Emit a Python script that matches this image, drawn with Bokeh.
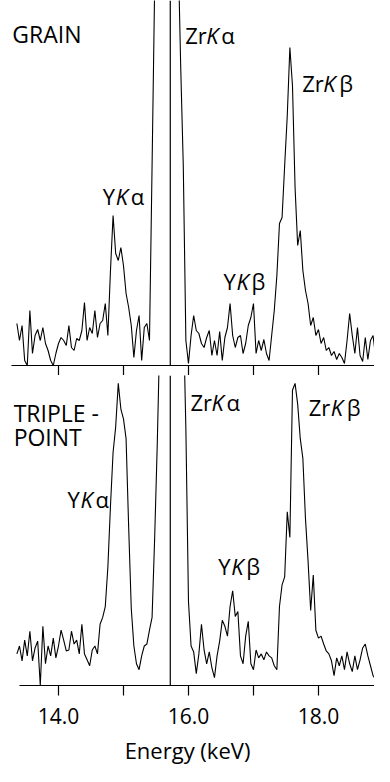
import numpy as np
from bokeh.plotting import figure
from bokeh.layouts import column
from bokeh.models import Range1d, FixedTicker, Span, Label
from bokeh.embed import file_html
from bokeh.resources import INLINE

# ---------------- data ----------------
channel_start_kev = 13.36
channel_width_kev = 0.04

grain_counts = [
    42, 25, 40, 5, 0, 55, 12, 30, 36, 25, 38, 22, 15, 5, 0, 12, 22, 28, 25, 20,
    40, 18, 15, 27, 25, 35, 63, 25, 38, 32, 55, 28, 42, 45, 62, 30, 95, 150, 112, 105,
    118, 100, 72, 58, 40, 8, 35, 50, 5, 38, 42, 25, 200, 380, 1800, 2600, 3100, 3300, 3000, 2400,
    1600, 900, 420, 300, 200, 25, 2, 30, 50, 35, 32, 22, 18, 28, 35, 10, 25, 10, 34, 5,
    28, 38, 62, 30, 18, 28, 30, 12, 22, 40, 48, 62, 12, 25, 15, 26, 12, 5, 30, 55,
    90, 142, 148, 200, 250, 318, 280, 178, 120, 135, 95, 75, 62, 40, 48, 30, 36, 22, 28, 15,
    18, 10, 14, 6, 12, 8, 2, 25, 52, 30, 12, 38, 10, 4, 28, 6, 25, 30, 8, 15,
    20, 12,
]

triple_point_counts = [
    32, 40, 25, 46, 30, 55, 25, 38, 45, 0, 60, 22, 40, 30, 48, 28, 40, 56, 46, 35,
    36, 55, 42, 46, 32, 62, 32, 26, 20, 36, 40, 32, 62, 69, 80, 120, 182, 236, 262, 306,
    280, 270, 250, 160, 78, 40, 22, 16, 30, 40, 42, 56, 69, 150, 245, 360, 1800, 2600, 3100, 3300,
    3000, 2400, 1600, 500, 380, 260, 85, 40, 34, 12, 32, 62, 36, 22, 34, 18, 8, 30, 45, 66,
    60, 50, 80, 96, 70, 75, 30, 22, 50, 65, 22, 16, 36, 28, 32, 26, 34, 30, 28, 20,
    16, 80, 102, 110, 176, 150, 299, 306, 285, 250, 230, 169, 126, 76, 112, 56, 48, 50, 42, 35,
    32, 25, 10, 28, 20, 30, 16, 34, 22, 14, 30, 16, 26, 38, 42, 30, 20, 10, 6, 30,
    22, 26,
]

energy_kev = channel_start_kev + channel_width_kev * np.arange(len(grain_counts))

labelled_ticks = [14, 16, 18]
unlabelled_ticks = [15, 17, 19]
all_ticks = [14, 15, 16, 17, 18, 19]
cursor_kev = 15.72

# labels: (energy, height, [(text, x_offset_px, style), ...])
grain_labels = [
    (13.29, 332, [("GRAIN", 0, "normal")]),
    (15.95, 331, [("Zr", 0, "normal"), ("K", 21, "italic"), ("α", 36, "normal")]),
    (14.68, 170, [("Y", 0, "normal"), ("K", 13, "italic"), ("α", 28, "normal")]),
    (17.75, 283, [("Zr", 0, "normal"), ("K", 21, "italic"), ("β", 37, "normal")]),
    (16.54, 85, [("Y", 0, "normal"), ("K", 13, "italic"), ("β", 28, "normal")]),
]
triple_labels = [
    (13.31, 276, [("TRIPLE -", 0, "normal")]),
    (13.31, 252, [("POINT", 0, "normal")]),
    (14.14, 189, [("Y", 0, "normal"), ("K", 13, "italic"), ("α", 28, "normal")]),
    (16.03, 287, [("Zr", 0, "normal"), ("K", 21, "italic"), ("α", 36, "normal")]),
    (17.85, 282, [("Zr", 0, "normal"), ("K", 22, "italic"), ("β", 38, "normal")]),
    (16.46, 121, [("Y", 0, "normal"), ("K", 13, "italic"), ("β", 28, "normal")]),
]
big_texts = {"GRAIN", "TRIPLE -", "POINT"}

FONT = "Open Sans"
X_RANGE = (13.108, 18.862)


def style_ticks(ax):
    ax.axis_line_color = "black"
    ax.axis_line_width = 1.2
    ax.major_tick_line_color = "black"
    ax.major_tick_line_width = 1.2
    ax.major_tick_in = 0
    ax.major_tick_out = 10
    ax.minor_tick_line_color = "black"
    ax.minor_tick_line_width = 1.2
    ax.minor_tick_in = 0
    ax.minor_tick_out = 10


def make_panel(counts, frame_h, ymax, labels, axis_start, bottom):
    p = figure(frame_width=374, frame_height=frame_h,
               x_range=Range1d(*X_RANGE), y_range=Range1d(0, ymax),
               output_backend="svg", toolbar_location=None,
               y_axis_location=None, min_border=0,
               min_border_left=0, min_border_right=0,
               min_border_top=0, min_border_bottom=0,
               outline_line_color=None, background_fill_color="white",
               border_fill_color="white")
    p.xgrid.visible = False
    p.ygrid.visible = False
    ax = p.xaxis[0]
    ax.bounds = (axis_start, 19.2)
    style_ticks(ax)
    if bottom:
        ax.ticker = FixedTicker(ticks=labelled_ticks, minor_ticks=unlabelled_ticks)
        ax.major_label_overrides = {t: f"{t:.1f}" for t in labelled_ticks}
        ax.major_label_text_font = FONT
        ax.major_label_text_font_size = "21px"
        ax.major_label_text_color = "black"
        ax.major_label_standoff = 12
        ax.axis_label = "Energy (keV)"
        ax.axis_label_text_font = FONT
        ax.axis_label_text_font_size = "22px"
        ax.axis_label_text_font_style = "normal"
        ax.axis_label_text_color = "black"
        ax.axis_label_standoff = 8
    else:
        ax.ticker = FixedTicker(ticks=[], minor_ticks=all_ticks)
        ax.major_label_standoff = 0

    p.add_layout(Span(location=cursor_kev, dimension="height",
                      line_color="black", line_width=1.2))
    p.line(energy_kev, counts, line_color="black", line_width=1.1)

    for ex, hy, pieces in labels:
        for txt, dx, style in pieces:
            size = "23px" if txt in big_texts else "22px"
            p.add_layout(Label(x=ex, y=hy, x_offset=dx, text=txt,
                               text_font=FONT, text_font_size=size,
                               text_font_style=style, text_color="black",
                               text_baseline="alphabetic", text_align="left"))
    return p


top = make_panel(grain_counts, 365, 365, grain_labels, 13.28, False)
bot = make_panel(triple_point_counts, 310, 314, triple_labels, 13.40, True)

layout = column(top, bot, spacing=0)
open("out.html", "w").write(file_html(layout, INLINE))
